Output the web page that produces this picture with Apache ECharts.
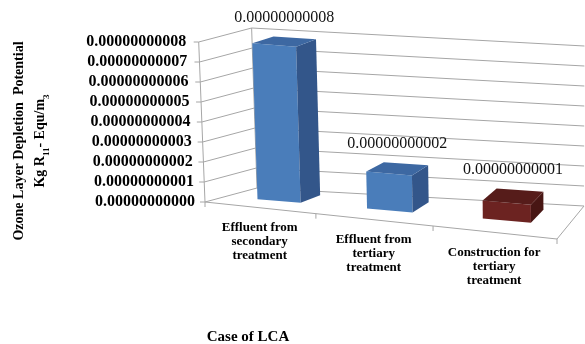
<!DOCTYPE html>
<html style='height: 100%'>
<head>
    <meta charset='utf-8'>
</head>
<body style='height: 100%; margin: 0'>
    <div id='container' style='width: 585px; height: 344px'></div>
    <script src="https://cdn.jsdelivr.net/npm/echarts@6/dist/echarts.min.js"></script>
    <script type="text/javascript">

var dom = document.getElementById("container");
var myChart = echarts.init(dom);

// data
var categories = ['Effluent from\nsecondary\ntreatment', 'Effluent from\ntertiary\ntreatment', 'Construction for\ntertiary\ntreatment'];
var values = [7.8e-11, 1.85e-11, 0.9e-11];
var yTicks = [0, 1e-11, 2e-11, 3e-11, 4e-11, 5e-11, 6e-11, 7e-11, 8e-11];

// face colours: front, side, top
var faces = [
    ['#4A7DBA', '#33568A', '#3D68A2'],
    ['#4A7DBA', '#33568A', '#3D68A2'],
    ['#6C2321', '#481614', '#561C1A']
];

// fake 3d floor: offsets from the front-left corner (px)
var FLOOR = {fry: 37, blx: 52, bly: -14, brx: 379, bry: 4};
var TILT_X = 560, TILT_D = 9000;
var Z0 = 0.4, Z1 = 0.82, HALF = 0.2;
var GRIDC = '#A6A6A6';

function helpers(api) {
    var o = api.coord([0, 0]);
    var W = api.coord([3, 0])[0] - o[0];
    var floorPt = function(f, z) {
        return [o[0] + W * f + FLOOR.blx * z + (FLOOR.brx - W - FLOOR.blx) * f * z,
                o[1] + FLOOR.fry * f + FLOOR.bly * z + (FLOOR.bry - FLOOR.fry - FLOOR.bly) * f * z];
    };
    var lift = function(p, h) {
        return [p[0] - h * (TILT_X - p[0]) / TILT_D, p[1] - h];
    };
    var height = function(v) { return o[1] - api.coord([0, v])[1]; };
    // slight foreshortening along the category direction
    var persp = function(x) {
        var u = (api.coord([x, 0])[0] - o[0]) / W;
        return 0.92 * u / (1 - 0.08 * u);
    };
    return {o: o, W: W, floorPt: floorPt, lift: lift, height: height, persp: persp};
}

function line(pts) {
    return {type: 'polyline', shape: {points: pts}, style: {stroke: GRIDC, lineWidth: 1, fill: null}};
}

function renderFrame(params, api) {
    var H = helpers(api);
    var kids = [];
    yTicks.forEach(function(t) {
        var h = H.height(t);
        var a = H.lift(H.floorPt(0, 0), h);
        var b = H.lift(H.floorPt(0, 1), h);
        var c = H.lift(H.floorPt(1, 1), h);
        kids.push(line([a, b, c]));
        kids.push(line([a, [a[0] - 5, a[1]]]));
    });
    var top = H.height(yTicks[yTicks.length - 1]);
    kids.push(line([H.floorPt(0, 0), H.lift(H.floorPt(0, 0), top)]));
    kids.push(line([H.floorPt(0, 1), H.lift(H.floorPt(0, 1), top)]));
    kids.push(line([H.floorPt(0, 0), H.floorPt(1, 0), H.floorPt(1, 1)]));
    for (var k = 0; k <= categories.length; k++) {
        var p = H.floorPt(H.persp(k), 0);
        kids.push(line([p, [p[0], p[1] + 5]]));
    }
    return {type: 'group', children: kids};
}

function renderBar(params, api) {
    var H = helpers(api);
    var i = params.dataIndex;
    var c = api.value(0), v = api.value(1);
    var h = H.height(v);
    var fL = H.persp(c - HALF), fR = H.persp(c + HALF);
    var fl = H.floorPt(fL, Z0), fr = H.floorPt(fR, Z0);
    var br = H.floorPt(fR, Z1), bl = H.floorPt(fL, Z1);
    var tfl = H.lift(fl, h), tfr = H.lift(fr, h), tbr = H.lift(br, h), tbl = H.lift(bl, h);
    var col = faces[i];
    var lab = H.floorPt(H.persp(c), 0);
    return {type: 'group', children: [
        {type: 'polygon', shape: {points: [fl, fr, tfr, tfl]}, style: {fill: col[0]}},
        {type: 'polygon', shape: {points: [fr, br, tbr, tfr]}, style: {fill: col[1]}},
        {type: 'polygon', shape: {points: [tfl, tfr, tbr, tbl]}, style: {fill: col[2]}},
        {type: 'text', style: {
            text: v.toFixed(11), x: (tfl[0] + tbr[0]) / 2, y: Math.min(tbl[1], tbr[1]) - 19,
            align: 'center', verticalAlign: 'middle',
            fontFamily: 'Liberation Serif', fontSize: 16, fill: '#111'
        }},
        {type: 'text', style: {
            text: categories[i], x: lab[0], y: lab[1] + 13,
            align: 'center', verticalAlign: 'top', lineHeight: 14,
            fontFamily: 'Liberation Serif', fontWeight: 'bold', fontSize: 13, fill: '#000'
        }}
    ]};
}

var tickRich = {};
yTicks.forEach(function(t, i) {
    tickRich['l' + i] = {
        fontFamily: 'Liberation Serif', fontWeight: 'bold', fontSize: 16, color: '#000',
        padding: [0, i * 1.1, 0, 0]
    };
});

option = {
    animation: false,
    grid: {left: 205, top: 42, width: 352, height: 160},
    xAxis: {type: 'value', min: 0, max: 3, show: false},
    yAxis: {
        type: 'value', min: 0, max: 8e-11, interval: 1e-11,
        axisLine: {show: false}, axisTick: {show: false}, splitLine: {show: false},
        axisLabel: {
            margin: 10,
            formatter: function(val, idx) { return '{l' + idx + '|' + val.toFixed(11) + '}'; },
            rich: tickRich
        }
    },
    series: [
        {type: 'custom', clip: false, renderItem: renderFrame, data: [[0, 0]], silent: true, z: 1},
        {type: 'custom', clip: false, renderItem: renderBar, z: 2,
         data: values.map(function(v, i) { return [i + 0.5, v]; })}
    ],
    graphic: [
        {
            type: 'text', x: 30, y: 141, rotation: Math.PI / 2,
            style: {
                text: 'Ozone Layer Depletion  Potential\n{n|Kg R}{s|11}{n|- Equ/m}{s|3}',
                align: 'center', verticalAlign: 'middle', lineHeight: 21,
                fontFamily: 'Liberation Serif', fontWeight: 'bold', fontSize: 14, fill: '#000',
                rich: {
                    n: {fontFamily: 'Liberation Serif', fontWeight: 'bold', fontSize: 14, lineHeight: 21},
                    s: {fontFamily: 'Liberation Serif', fontWeight: 'bold', fontSize: 9, lineHeight: 21, verticalAlign: 'bottom'}
                }
            }
        },
        {
            type: 'text', x: 248, y: 337,
            style: {
                text: 'Case of LCA', align: 'center', verticalAlign: 'middle',
                fontFamily: 'Liberation Serif', fontWeight: 'bold', fontSize: 15, fill: '#000'
            }
        }
    ]
};

if (option && typeof option === "object") {
    myChart.setOption(option, true);
}
    </script>
</body>
</html>
